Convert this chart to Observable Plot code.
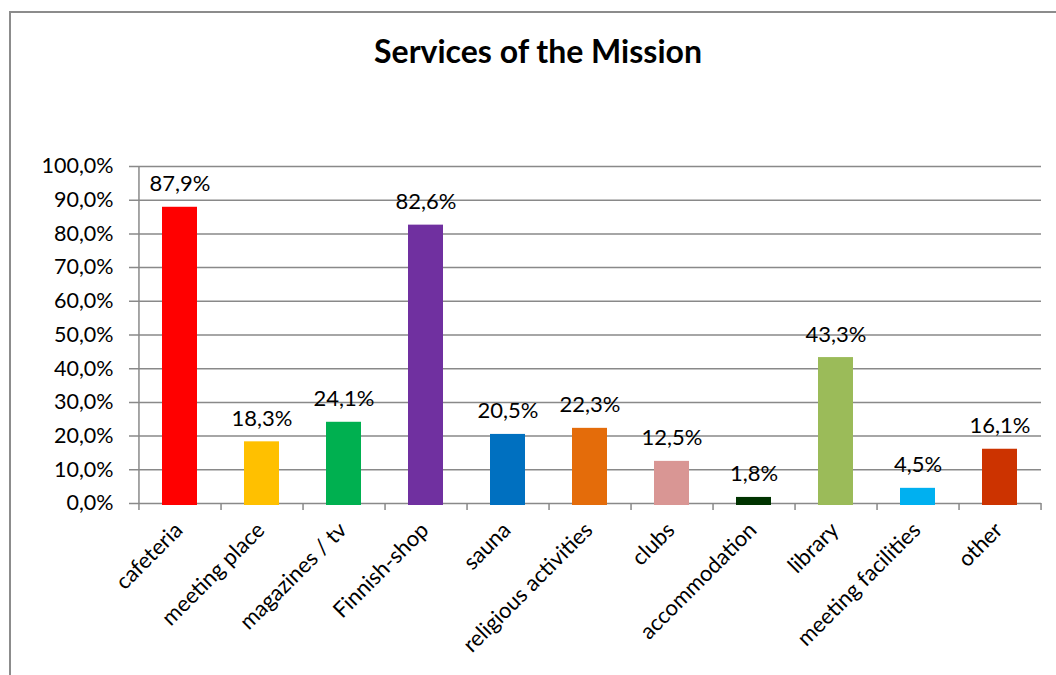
<!DOCTYPE html>
<html><head><meta charset="utf-8">
<script src="https://cdn.jsdelivr.net/npm/d3@7"></script>
<script src="https://cdn.jsdelivr.net/npm/@observablehq/plot@0.6"></script>
<style>
body{margin:0;background:#fff;font-family:Lato, "Open Sans", sans-serif;}
#wrap{position:relative;width:1056px;height:675px;overflow:hidden;background:#fff;}
#frame{position:absolute;left:9px;top:11px;width:1200px;height:800px;border-left:2px solid #8c8c8c;border-top:2px solid #8c8c8c;box-sizing:border-box;}
#title{position:absolute;left:0;top:30px;width:1076px;text-align:center;font-weight:bold;font-size:32px;line-height:42px;color:#000;}
#chart{position:absolute;left:0;top:100px;}
</style>
</head><body>
<div id="wrap">
  <div id="frame"></div>
  <div id="title">Services of the Mission</div>
  <div id="chart"></div>
</div>
<script>
const categories = ["cafeteria","meeting place","magazines / tv","Finnish-shop","sauna","religious activities","clubs","accommodation","library","meeting facilities","other"];
const values = [87.9, 18.3, 24.1, 82.6, 20.5, 22.3, 12.5, 1.8, 43.3, 4.5, 16.1];
const colors = ["#FF0000","#FFC000","#00B050","#7030A0","#0070C0","#E46C0A","#D99694","#003300","#9BBB59","#00B0F0","#CC3300"];
const yTicks = [0,10,20,30,40,50,60,70,80,90,100];

const data = categories.map((c,i)=>({category:c, value:values[i], color:colors[i]}));
const fmt = v => v.toFixed(1).replace(".", ",") + "%";
const W = 1056, H = 575, mL = 138, mR = 15, mT = 66, mB = 172;
const step = (W - mL - mR) / categories.length;
const gray = "#898989";

const chart = Plot.plot({
  width: W, height: H,
  marginLeft: mL, marginRight: mR, marginTop: mT, marginBottom: mB,
  style: {fontFamily: "Lato, 'Open Sans', sans-serif", fontSize: "22px", color: "#000", background: "transparent", overflow: "visible"},
  x: {domain: categories, paddingInner: 0.57, paddingOuter: 0.285, axis: null},
  y: {domain: [0, 100], axis: null},
  color: {type: "identity"},
  marks: [
    Plot.ruleY(yTicks, {y: d => d, stroke: gray, strokeWidth: 1.5, insetLeft: -9}),
    Plot.text(yTicks, {y: d => d, text: d => fmt(d), frameAnchor: "left", textAnchor: "end", dx: -25, fontSize: 21.5, fill: "#000"}),
    Plot.ruleX([categories[0]], {x: d => d, dx: -step/2, stroke: gray, strokeWidth: 1.5, insetBottom: -7}),
    Plot.ruleX(categories, {x: d => d, dx: step/2, y1: 0, y2: 0, stroke: gray, strokeWidth: 1.5, insetBottom: -7}),
    Plot.barY(data, {x: "category", y: "value", fill: "color", insetBottom: -2}),
    Plot.text(data, {x: "category", y: "value", text: d => fmt(d.value), dy: -23, fontSize: 22, fill: "#000"}),
    Plot.text(categories, {x: d => d, frameAnchor: "bottom", text: d => d, rotate: -45, textAnchor: "end", dy: 28, dx: 4, fontSize: 22, fill: "#000"})
  ]
});
document.getElementById("chart").appendChild(chart);
</script>
</body></html>
